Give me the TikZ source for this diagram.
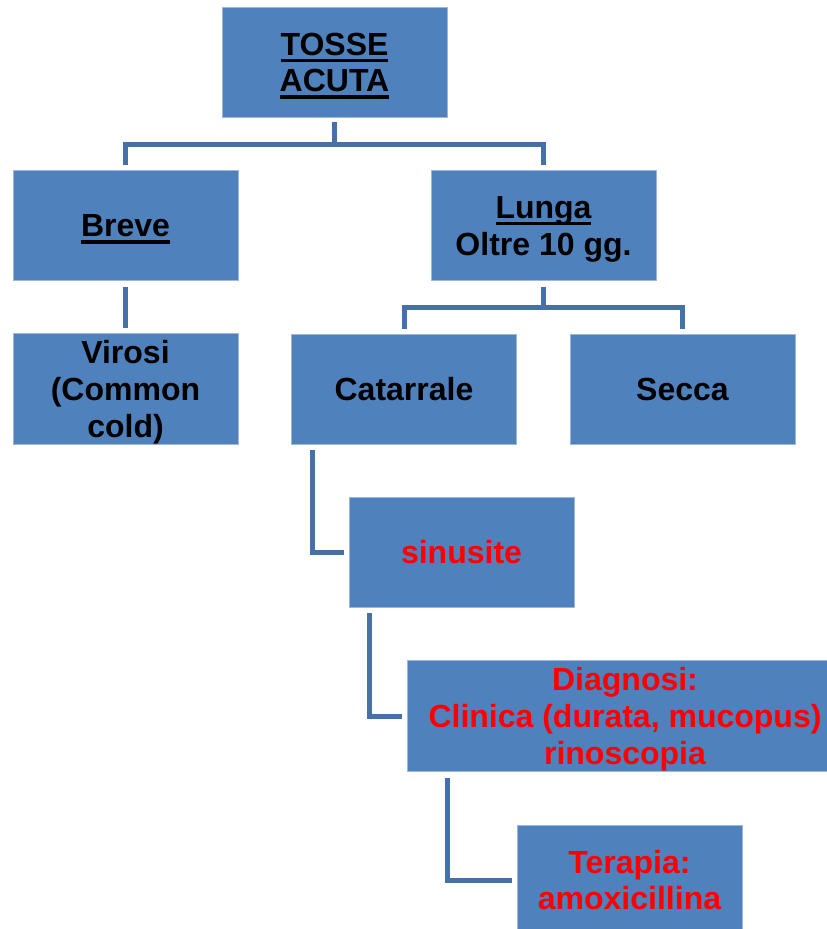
\documentclass[tikz,border=0pt]{standalone}
\usepackage{fontspec}
\setmainfont{Liberation Sans}
\usetikzlibrary{calc}

\definecolor{boxfill}{HTML}{4F81BD}
\definecolor{boxedge}{HTML}{9DB7DC}
\definecolor{linkblue}{HTML}{4571A8}

% thick underline that does not change the height of the line
\newcommand\ulword[1]{\setbox0\hbox{#1}\rlap{\raisebox{-6.8pt}[0pt][0pt]{\rule{\wd0}{3.3pt}}}\box0}
% line strut: every line gets the same height and depth
\newcommand\ls{\rule[-7pt]{0pt}{36.8pt}}

\tikzset{
  card/.style={draw=boxedge, line width=0.8pt, fill=boxfill,
    minimum width=225pt, minimum height=110pt, inner sep=0pt,
    align=center, font=\bfseries\fontsize{32}{36.8}\selectfont},
  link/.style={draw=linkblue, line width=5pt}
}

\begin{document}
\begin{tikzpicture}[x=1pt, y=-1pt]
\useasboundingbox (0,0) rectangle (827,929);
\clip (0,0) rectangle (827,929);

% boxes
\node[card] (tosse) at (334.5,62) {\ls\ulword{TOSSE}\\\ls\ulword{ACUTA}};
\node[card] (breve) at (125.5,225.5) {\ls\ulword{Breve}};
\node[card] (lunga) at (543.5,225.5) {\ls\ulword{Lunga}\\\ls Oltre 10 gg.};
\node[card] (virosi) at (125.5,389) {\ls Virosi\\\ls(Common\\\ls cold)};
\node[card] (catarrale) at (404,389) {\ls Catarrale};
\node[card] (secca) at (682.5,389) {\ls Secca};
\node[card, text=red] (sinusite) at (461.5,552) {\ls sinusite};
\node[card, text=red, minimum width=436pt] (diagnosi) at (625,716)
  {\ls Diagnosi:\\\ls Clinica (durata, mucopus)\\\ls rinoscopia};
\node[card, text=red] (terapia) at (629.5,880) {\ls Terapia:\\\ls amoxicillina};

% connectors
\draw[link] ([yshift=-5pt]tosse.south) -- ++(0,-22pt) -| ([yshift=5pt]breve.north);
\draw[link] ([yshift=-5pt]tosse.south) -- ++(0,-22pt) -| ([yshift=5pt]lunga.north);
\draw[link] ([yshift=-6pt]breve.south) -- ([yshift=5pt]virosi.north);
\draw[link] ([yshift=-6pt]lunga.south) -- ++(0,-21pt) -| ([yshift=5pt]catarrale.north);
\draw[link] ([yshift=-6pt]lunga.south) -- ++(0,-21pt) -| ([yshift=5pt]secca.north);
\draw[link] ([xshift=21pt,yshift=-6pt]catarrale.south west) |- ([xshift=-5pt]sinusite.west);
\draw[link] ([xshift=21pt,yshift=-6pt]sinusite.south west) |- ([xshift=-5pt]diagnosi.west);
\draw[link] ([xshift=41pt,yshift=-6pt]diagnosi.south west) |- ([xshift=-5pt]terapia.west);
\end{tikzpicture}
\end{document}
